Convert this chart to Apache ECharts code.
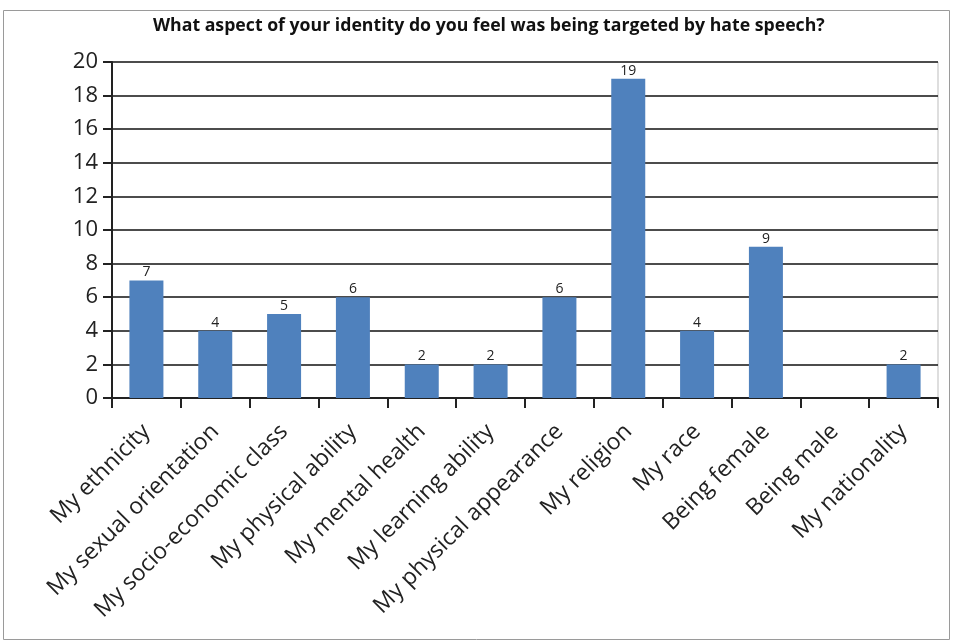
<!DOCTYPE html>
<html>
<head>
<meta charset="utf-8">
<script src="https://cdn.jsdelivr.net/npm/echarts@6/dist/echarts.min.js"></script>
<style>
html,body{margin:0;padding:0;background:#fff;}
#chart{width:953px;height:643px;}
</style>
</head>
<body>
<div id="chart"></div>
<script>
const categories = ['My ethnicity', 'My sexual orientation', 'My socio-economic class', 'My physical ability',
  'My mental health', 'My learning ability', 'My physical appearance', 'My religion', 'My race',
  'Being female', 'Being male', 'My nationality'];
const counts = [7, 4, 5, 6, 2, 2, 6, 19, 4, 9, 0, 2];
const yTicks = [0, 2, 4, 6, 8, 10, 12, 14, 16, 18, 20];

const FONT = 'Open Sans';
const chart = echarts.init(document.getElementById('chart'));
chart.setOption({
  animation: false,
  backgroundColor: '#fff',
  title: {
    text: 'What aspect of your identity do you feel was being targeted by hate speech?',
    left: 148, top: 12,
    textStyle: { fontFamily: FONT, fontSize: 17.7, fontWeight: 'bold', color: '#111' }
  },
  graphic: [{
    type: 'rect', shape: { x: 3.5, y: 10.5, width: 946, height: 629 },
    style: { fill: 'none', stroke: '#9a9a9a', lineWidth: 1 }, silent: true
  }, {
    type: 'line', shape: { x1: 938, y1: 62, x2: 938, y2: 398 },
    style: { stroke: '#bdbdbd', lineWidth: 1 }, silent: true
  }],
  grid: { left: 112, right: 15, top: 62, bottom: 245 },
  xAxis: {
    type: 'category', data: categories,
    axisLine: { lineStyle: { color: '#222', width: 2 } },
    axisTick: { show: true, length: 10, alignWithLabel: false, lineStyle: { color: '#222', width: 2 } },
    axisLabel: { rotate: 45, interval: 0, fontFamily: FONT, fontSize: 23, color: '#222', margin: 30 }
  },
  yAxis: {
    type: 'value', min: yTicks[0], max: yTicks[yTicks.length - 1], interval: 2,
    axisLine: { show: true, lineStyle: { color: '#222', width: 2 } },
    axisTick: { show: true, length: 9, lineStyle: { color: '#222', width: 2 } },
    axisLabel: { fontFamily: FONT, fontSize: 22, color: '#222', margin: 14 },
    splitLine: { lineStyle: { color: '#111', width: 1.5 } }
  },
  series: [{
    type: 'bar', data: counts, barWidth: 34,
    itemStyle: { color: '#4F81BD' },
    label: {
      show: true, position: 'top', distance: 1,
      fontFamily: FONT, fontSize: 14, color: '#222',
      formatter: p => p.value === 0 ? '' : p.value
    }
  }]
});
</script>
</body>
</html>
